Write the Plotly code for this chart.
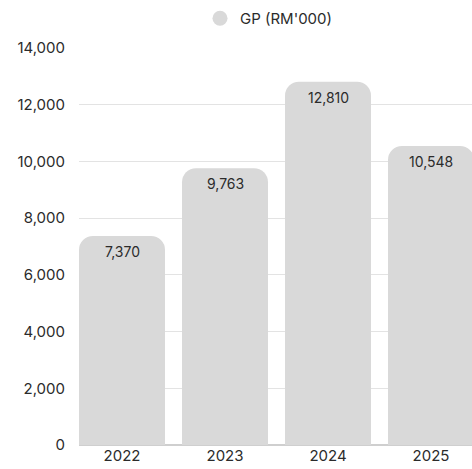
import plotly.graph_objects as go

# Dados do gráfico
anos = ["2022", "2023", "2024", "2025"]
gp = [7370, 9763, 12810, 10548]
serie = "GP (RM'000)"

COR_BARRA = "#d9d9d9"
COR_TEXTO = "#2b2b2b"
FONTE = "Inter, 'Open Sans', sans-serif"
TAM = 15

fig = go.Figure()

fig.add_trace(
    go.Bar(
        x=anos,
        y=gp,
        marker=dict(color=COR_BARRA, line=dict(width=0)),
        showlegend=False,
        hoverinfo="x+y",
    )
)

# Entrada de legenda com marcador circular
fig.add_trace(
    go.Scatter(
        x=[None],
        y=[None],
        mode="markers",
        marker=dict(color=COR_BARRA, size=15, symbol="circle"),
        name=serie,
        showlegend=True,
    )
)

# Rótulos dentro das barras, logo abaixo do topo
# (índice da categoria, pois "2022" seria lido como número)
for i, valor in enumerate(gp):
    fig.add_annotation(
        x=i,
        y=valor,
        xref="x",
        yref="y",
        text=f"{valor:,}",
        showarrow=False,
        yanchor="top",
        yshift=-5,
        font=dict(color=COR_TEXTO, size=TAM - 1, family=FONTE),
    )

fig.update_layout(
    width=472,
    height=469,
    margin=dict(l=79, r=0, t=48, b=24),
    paper_bgcolor="white",
    plot_bgcolor="white",
    font=dict(family=FONTE, color=COR_TEXTO, size=TAM),
    bargap=0.165,
    barcornerradius=14,
    legend=dict(
        orientation="h",
        x=200 / 472,
        xref="container",
        xanchor="left",
        y=1.0 - 2 / 469,
        yref="container",
        yanchor="top",
        font=dict(size=TAM, color=COR_TEXTO),
        itemwidth=30,
    ),
    xaxis=dict(
        type="category",
        range=[-0.4175, 3.398],
        showgrid=False,
        showline=False,
        ticks="",
        automargin=False,
        tickfont=dict(size=TAM, color=COR_TEXTO),
    ),
    yaxis=dict(
        range=[0, 14000],
        dtick=2000,
        tickformat=",",
        showgrid=True,
        gridcolor="#e3e3e3",
        gridwidth=1,
        zeroline=True,
        zerolinecolor="#cfcfcf",
        showline=False,
        ticks="",
        ticklabelstandoff=13,
        automargin=False,
        tickfont=dict(size=TAM, color=COR_TEXTO),
    ),
)

fig.write_html(
    "out.html",
    config={"displayModeBar": False},
    post_script="document.body.style.margin='0';document.body.style.overflow='hidden';",
)
